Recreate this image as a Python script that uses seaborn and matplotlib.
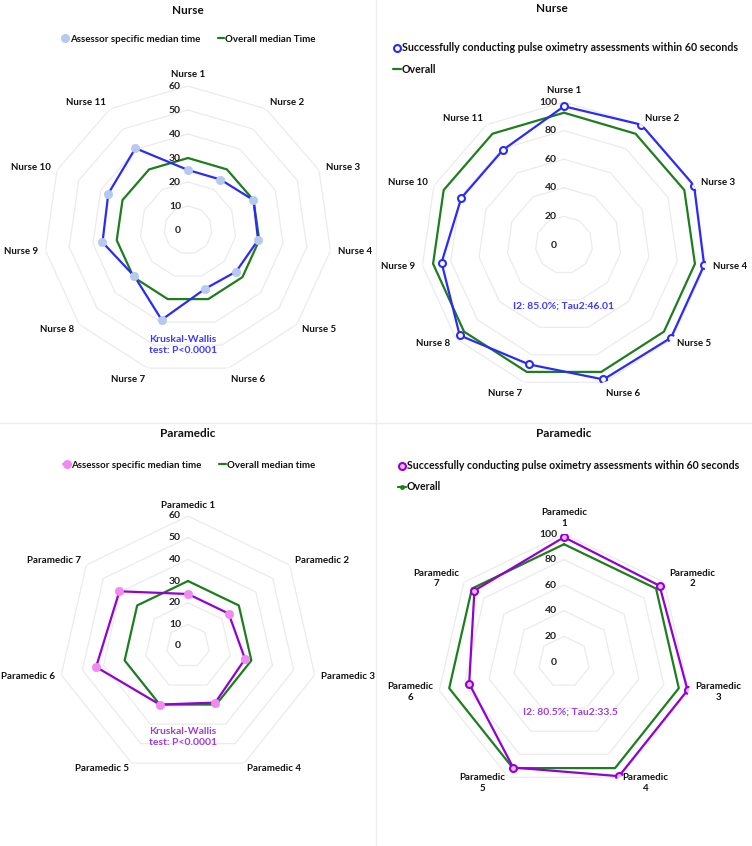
import numpy as np
import pandas as pd
import matplotlib
matplotlib.use("Agg")
import matplotlib.pyplot as plt
import seaborn as sns
from matplotlib.lines import Line2D

# ---------------- data ----------------
nurse_labels = [f"Nurse {i}" for i in range(1, 12)]
nurse_time = [25, 25, 30, 29.5, 26.5, 25.5, 39, 29.5, 36, 36.5, 40.5]
nurse_time_overall = [30] * 11
nurse_success = [97, 100, 100, 99, 99, 98, 87, 96.5, 86.5, 79, 79]
nurse_success_overall = [92.5] * 11

para_labels = [f"Paramedic {i}" for i in range(1, 8)]
para_labels_wrapped = [f"Paramedic\n{i}" for i in range(1, 8)]
para_time = [24, 24, 27, 29, 30, 43.5, 40.5]
para_time_overall = [30] * 7
para_success = [97.5, 95.5, 99, 99, 91.5, 76, 89.5]
para_success_overall = [92] * 7

time_ticks = [0, 10, 20, 30, 40, 50, 60]
pct_ticks = [0, 20, 40, 60, 80, 100]

sns.set_theme(style="white")
plt.rcParams['font.family'] = ['Lato', 'DejaVu Sans']
plt.rcParams['font.weight'] = 'bold'

W, H = 752, 846
fig = plt.figure(figsize=(W / 100, H / 100), dpi=100)
fig.patch.set_facecolor("white")

GREEN = "#1e7d1e"
BLUE = "#2b2bf5"
LBLUE = "#b7c9ee"
PURPLE = "#9100d4"
PINK = "#f08af0"
GRID = "#ebebeb"


def radar(cx, cy, R, labels, vals, overall, ticks, vmax, line_c, mfc, mec,
          mk_size, label_pad):
    ax = fig.add_axes([(cx - R) / W, 1 - (cy + R) / H, 2 * R / W, 2 * R / H],
                      projection="polar")
    n = len(labels)
    theta = np.arange(n) * 2 * np.pi / n
    ax.set_theta_offset(np.pi / 2)
    ax.set_theta_direction(-1)
    ax.set_ylim(0, vmax)
    ax.grid(False)
    ax.spines["polar"].set_visible(False)
    ax.set_xticks([])
    ax.set_yticks([])
    ax.set_facecolor("none")
    tc = np.append(theta, theta[0])
    for t in ticks:
        ax.plot(tc, [t] * (n + 1), color=GRID, lw=0.9, zorder=1)
    for t in ticks:
        ax.annotate(str(t), xy=(0, t), xytext=(-5, 0), textcoords="offset points",
                    ha="right", va="center", fontsize=7.5, fontweight="bold",
                    color="#222222", zorder=5)
    df_o = pd.DataFrame({"theta": tc, "r": np.append(overall, overall[0])})
    df_v = pd.DataFrame({"theta": tc, "r": np.append(vals, vals[0])})
    sns.lineplot(data=df_o, x="theta", y="r", sort=False, ax=ax, color=GREEN,
                 lw=1.6, zorder=3, estimator=None)
    sns.lineplot(data=df_v, x="theta", y="r", sort=False, ax=ax, color=line_c,
                 lw=1.6, zorder=4, estimator=None)
    ax.plot(theta, vals, ls="none", marker="o", ms=mk_size, mfc=mfc, mec=mec,
            mew=1.5 if mfc != mec else 0.5, zorder=5)
    ax.set_xlabel("")
    ax.set_ylabel("")
    for th, lab in zip(theta, labels):
        s, c = np.sin(th), np.cos(th)
        ha = "left" if s > 0.05 else ("right" if s < -0.05 else "center")
        va = "bottom" if c > 0.95 else ("top" if c < -0.95 else "center")
        ax.text(th, vmax * label_pad, lab, ha=ha, va=va, fontsize=7,
                fontweight="bold", color="#111111", multialignment="center",
                zorder=6)
    return ax


# panel 1
radar(188, 230, 144, nurse_labels, nurse_time, nurse_time_overall, time_ticks,
      60, BLUE, LBLUE, LBLUE, 6, 1.05)
# panel 2
radar(564, 245, 143, nurse_labels, nurse_success, nurse_success_overall,
      pct_ticks, 100, BLUE, "white", BLUE, 5, 1.05)
# panel 3
radar(188, 646, 130, para_labels, para_time, para_time_overall, time_ticks,
      60, PURPLE, PINK, PINK, 6, 1.05)
# panel 4
radar(564, 662, 128, para_labels_wrapped, para_success, para_success_overall,
      pct_ticks, 100, PURPLE, "#f4b8f4", PURPLE, 5, 1.05)

# titles
for x, y, t in [(188, 11, "Nurse"), (552, 9, "Nurse"),
                (188, 433, "Paramedic"), (564, 433, "Paramedic")]:
    fig.text(x / W, 1 - y / H, t, ha="center", va="center", fontsize=8.5,
             fontweight="bold", color="#111111")

# annotations
fig.text(183 / W, 1 - 345 / H, "Kruskal-Wallis\ntest: P<0.0001", ha="center",
         va="center", fontsize=7.5, fontweight="bold", color="#3b3bff",
         linespacing=1.3)
fig.text(183 / W, 1 - 737 / H, "Kruskal-Wallis\ntest: P<0.0001", ha="center",
         va="center", fontsize=7.5, fontweight="bold", color="#9b3fd6",
         linespacing=1.3)
fig.text(564 / W, 1 - 306 / H, "I2: 85.0%; Tau2:46.01", ha="center",
         va="center", fontsize=7.5, fontweight="bold", color="#3b3bff")
fig.text(570 / W, 1 - 712 / H, "I2: 80.5%; Tau2:33.5", ha="center",
         va="center", fontsize=7.5, fontweight="bold", color="#9b3fd6")


def h(color, mfc, mec, marker="o", ms=5, ls="-"):
    return Line2D([0], [0], color=color, lw=1.6, marker=marker, ms=ms,
                  mfc=mfc, mec=mec, mew=1.5, ls=ls)


def leg_kw(size):
    return dict(frameon=False, handlelength=0.7, handletextpad=0.1,
                borderpad=0, prop={"weight": "bold", "size": size})


l1 = fig.legend([h(LBLUE, LBLUE, LBLUE, ls="-"), h(GREEN, GREEN, GREEN, marker=None)],
                ["Assessor specific median time", "Overall median Time"],
                loc="center", bbox_to_anchor=(189 / W, 1 - 39 / H), ncol=2,
                columnspacing=1.8, **leg_kw(7))
l2 = fig.legend([h(BLUE, "white", BLUE, ls="none"), h(GREEN, GREEN, GREEN, marker=None)],
                ["Successfully conducting pulse oximetry assessments within 60 seconds",
                 "Overall"],
                loc="upper left", bbox_to_anchor=(388 / W, 1 - 37 / H), ncol=1,
                labelspacing=0.95, **leg_kw(7.7))
l3 = fig.legend([h(PINK, PINK, PINK), h(GREEN, GREEN, GREEN, marker=None)],
                ["Assessor specific median time", "Overall median time"],
                loc="center", bbox_to_anchor=(189 / W, 1 - 465 / H), ncol=2,
                columnspacing=1.8, **leg_kw(7))
l4 = fig.legend([h(PURPLE, "#f4b8f4", PURPLE, ls="none"), h(GREEN, GREEN, GREEN, ms=2)],
                ["Successfully conducting pulse oximetry assessments within 60 seconds",
                 "Overall"],
                loc="upper left", bbox_to_anchor=(393 / W, 1 - 455 / H), ncol=1,
                labelspacing=0.95, **leg_kw(7.6))
for lg in (l1, l2, l3, l4):
    for txt in lg.get_texts():
        txt.set_color("#111111")

# panel dividers
fig.add_artist(Line2D([376 / W, 376 / W], [0, 1], color="#eeeeee", lw=1))
fig.add_artist(Line2D([0, 1], [1 - 423 / H, 1 - 423 / H], color="#eeeeee", lw=1))

fig.savefig("out.png", dpi=100, facecolor="white")
